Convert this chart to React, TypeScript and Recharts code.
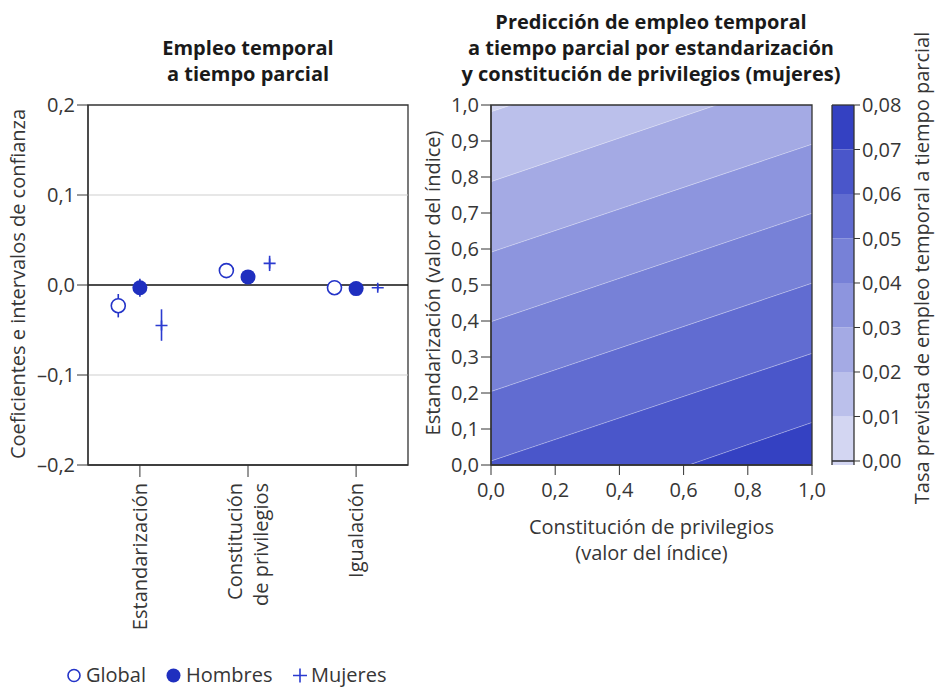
import React from 'react';
import {
  ComposedChart,
  Scatter,
  ErrorBar,
  XAxis,
  YAxis,
  ReferenceLine,
  ReferenceArea,
  Area,
} from 'recharts';

const FONT = '"Open Sans", "Noto Sans", "DejaVu Sans", sans-serif';
const TEXT = '#363636';
const AXIS = '#333333';
const FS = 20;

// ---------- Left panel data ----------
const categoryLabels: string[][] = [['Estandarización'], ['Constitución', 'de privilegios'], ['Igualación']];
const categoryPositions = [1, 2, 3];
const coefTicks = [-0.2, -0.1, 0, 0.1, 0.2];

const globalCoef = [-0.023, 0.016, -0.003];
const globalLow = [-0.036, 0.012, -0.007];
const globalHigh = [-0.01, 0.02, 0.001];

const hombresCoef = [-0.003, 0.009, -0.004];
const hombresLow = [-0.013, 0.005, -0.008];
const hombresHigh = [0.007, 0.013, 0.0];

const mujeresCoef = [-0.045, 0.024, -0.003];
const mujeresLow = [-0.062, 0.0155, -0.006];
const mujeresHigh = [-0.027, 0.0325, 0.0];

const seriesNames = ['Global', 'Hombres', 'Mujeres'];

// ---------- Right panel data ----------
const privilegiosTicks = [0, 0.2, 0.4, 0.6, 0.8, 1];
const estandarizacionTicks = [0, 0.1, 0.2, 0.3, 0.4, 0.5, 0.6, 0.7, 0.8, 0.9, 1];
const privilegiosEnds = [0, 1];
// contour lines (levels 0.01 ... 0.07): standardization value where each line meets privilegios = 0 and = 1
const contourLevels = [0.01, 0.02, 0.03, 0.04, 0.05, 0.06, 0.07];
const contourAtPriv0 = [0.981, 0.787, 0.591, 0.398, 0.204, 0.011, -0.19];
const contourAtPriv1 = [1.28, 1.09, 0.891, 0.699, 0.505, 0.31, 0.118];

const colorbarTicks = [0, 0.01, 0.02, 0.03, 0.04, 0.05, 0.06, 0.07, 0.08];
// band colours 0.00–0.01 ... 0.07–0.08
const levelColors = ['#d3d6f2', '#bbc0eb', '#a4aae4', '#8d95de', '#7781d7', '#616cd1', '#4a56ca', '#3441c2'];

const GLOBAL_COLOR = '#2434c8';
const HOMBRES_COLOR = '#1f2fbf';
const MUJERES_COLOR = '#2b3bd0';

const dodge = [-0.2, 0, 0.2];

const makeSeries = (coef: number[], low: number[], high: number[], off: number) =>
  coef.map((c, i) => ({
    x: categoryPositions[i] + off,
    y: c,
    err: [c - low[i], high[i] - c],
  }));

const globalData = makeSeries(globalCoef, globalLow, globalHigh, dodge[0]);
const hombresData = makeSeries(hombresCoef, hombresLow, hombresHigh, dodge[1]);
const mujeresData = makeSeries(mujeresCoef, mujeresLow, mujeresHigh, dodge[2]);

const contourRows = privilegiosEnds.map((xv) => {
  const ys = xv === 0 ? contourAtPriv0 : contourAtPriv1;
  const row: any = { x: xv };
  for (let j = 0; j < levelColors.length; j++) {
    const hi = j === 0 ? 3 : ys[j - 1];
    const lo = j === contourLevels.length ? -2 : ys[j];
    row['band' + j] = [lo, hi];
  }
  return row;
});

const COLORBAR_MIN = -0.0009;
const colorbarRows = privilegiosEnds.map((xv) => {
  const row: any = { x: xv };
  for (let j = 0; j < levelColors.length; j++) {
    row['band' + j] = [j === 0 ? COLORBAR_MIN : colorbarTicks[j], colorbarTicks[j + 1]];
  }
  return row;
});

const fmt = (d: number) => (v: number) => v.toFixed(d).replace('.', ',').replace('-', '–');

const tickStyle = { fontSize: FS, fill: TEXT, fontFamily: FONT };

const CategoryTick = (props: any) => {
  const { x, y, payload } = props;
  const idx = categoryPositions.indexOf(Math.round(payload.value));
  const lines = categoryLabels[idx] || [];
  const n = lines.length;
  return (
    <g transform={`translate(${x},${y})`}>
      <text transform="rotate(-90)" textAnchor="end" fontSize={FS} fill={TEXT} fontFamily={FONT}>
        {lines.map((l, i) => (
          <tspan key={i} x={0} y={(i - (n - 1) / 2) * 26 + 7}>
            {l}
          </tspan>
        ))}
      </text>
    </g>
  );
};

const OpenCircle = (props: any) => (
  <circle cx={props.cx} cy={props.cy} r={7} fill="#ffffff" stroke={GLOBAL_COLOR} strokeWidth={1.6} />
);
const FilledCircle = (props: any) => (
  <circle cx={props.cx} cy={props.cy} r={7.5} fill={HOMBRES_COLOR} stroke="none" />
);
const Plus = (props: any) => (
  <path
    d={`M${props.cx - 6},${props.cy}H${props.cx + 6}M${props.cx},${props.cy - 5}V${props.cy + 5}`}
    stroke={MUJERES_COLOR}
    strokeWidth={1.6}
    fill="none"
  />
);

const rotatedLabel = (text: string, cx: number, cy: number) => (
  <div
    style={{
      position: 'absolute',
      left: cx,
      top: cy,
      transform: 'translate(-50%, -50%) rotate(-90deg)',
      whiteSpace: 'nowrap',
      fontFamily: FONT,
      fontSize: FS,
      color: TEXT,
      lineHeight: '24px',
    }}
  >
    {text}
  </div>
);

const legendText = (text: string, left: number) => (
  <div
    style={{
      position: 'absolute',
      left,
      top: 664,
      height: 22,
      lineHeight: '22px',
      fontSize: FS,
      color: TEXT,
      whiteSpace: 'nowrap',
    }}
  >
    {text}
  </div>
);

export default function App() {
  return (
    <div style={{ position: 'absolute', left: 0, top: 0, width: 935, height: 687, background: '#fff', fontFamily: FONT, overflow: 'hidden' }}>
      {/* Left title */}
      <div
        style={{
          position: 'absolute',
          left: 88,
          width: 320,
          top: 35,
          textAlign: 'center',
          fontWeight: 700,
          fontSize: FS,
          lineHeight: '26px',
          color: '#1a1a1a',
        }}
      >
        Empleo temporal
        <br />a tiempo parcial
      </div>
      {/* Right title */}
      <div
        style={{
          position: 'absolute',
          left: 441,
          width: 420,
          top: 9,
          textAlign: 'center',
          fontWeight: 700,
          fontSize: FS,
          lineHeight: '26px',
          color: '#1a1a1a',
        }}
      >
        Predicción de empleo temporal
        <br />a tiempo parcial por estandarización
        <br />y constitución de privilegios (mujeres)
      </div>

      {/* Left chart */}
      <div style={{ position: 'absolute', left: 0, top: 0 }}>
        <ComposedChart width={420} height={687} margin={{ top: 105, right: 12, bottom: 62, left: 28 }}>
          <XAxis
            dataKey="x"
            type="number"
            domain={[0.52, 3.48]}
            ticks={categoryPositions}
            allowDataOverflow
            height={160}
            tickSize={12}
            tickMargin={6}
            tick={<CategoryTick />}
            stroke={AXIS}
            tickLine={{ stroke: AXIS }}
            axisLine={{ stroke: AXIS, strokeWidth: 1.3 }}
          />
          <YAxis
            dataKey="y"
            type="number"
            domain={[-0.2, 0.2]}
            ticks={coefTicks}
            allowDataOverflow
            width={60}
            tickSize={11}
            tickMargin={2}
            tickFormatter={fmt(1)}
            tick={tickStyle}
            tickLine={{ stroke: AXIS }}
            axisLine={{ stroke: AXIS, strokeWidth: 1.3 }}
          />
          <ReferenceLine y={0.1} stroke="#cfcfcf" strokeWidth={1} />
          <ReferenceLine y={-0.1} stroke="#cfcfcf" strokeWidth={1} />
          <ReferenceLine y={0} stroke="#111111" strokeWidth={1.3} />
          <ReferenceArea x1={0.52} x2={3.48} y1={-0.2} y2={0.2} fill="none" fillOpacity={0} stroke={AXIS} strokeWidth={1.3} />
          <Scatter name={seriesNames[0]} data={globalData} dataKey="y" shape={OpenCircle} isAnimationActive={false}>
            <ErrorBar dataKey="err" direction="y" width={0} stroke={GLOBAL_COLOR} strokeWidth={1.6} isAnimationActive={false} />
          </Scatter>
          <Scatter name={seriesNames[1]} data={hombresData} dataKey="y" shape={FilledCircle} isAnimationActive={false}>
            <ErrorBar dataKey="err" direction="y" width={0} stroke={HOMBRES_COLOR} strokeWidth={1.6} isAnimationActive={false} />
          </Scatter>
          <Scatter name={seriesNames[2]} data={mujeresData} dataKey="y" shape={Plus} isAnimationActive={false}>
            <ErrorBar dataKey="err" direction="y" width={0} stroke={MUJERES_COLOR} strokeWidth={1.6} isAnimationActive={false} />
          </Scatter>
        </ComposedChart>
      </div>
      {rotatedLabel('Coeficientes e intervalos de confianza', 18, 284)}

      {/* Legend */}
      <svg style={{ position: 'absolute', left: 0, top: 664 }} width={320} height={22}>
        <circle cx={74} cy={11.5} r={6} fill="#fff" stroke={GLOBAL_COLOR} strokeWidth={1.6} />
        <circle cx={173.5} cy={11.5} r={7} fill={HOMBRES_COLOR} />
        <path d="M293,11.5H307M300,4.5V18.5" stroke={MUJERES_COLOR} strokeWidth={1.6} />
      </svg>
      {legendText(seriesNames[0], 86)}
      {legendText(seriesNames[1], 186)}
      {legendText(seriesNames[2], 311)}

      {/* Right contour chart */}
      <div style={{ position: 'absolute', left: 420, top: 0 }}>
        <ComposedChart width={420} height={687} data={contourRows} margin={{ top: 105, right: 28, bottom: 182, left: 21 }}>
          <XAxis
            dataKey="x"
            type="number"
            domain={[0, 1]}
            ticks={privilegiosTicks}
            allowDataOverflow
            height={40}
            tickSize={10}
            tickMargin={8}
            tickFormatter={fmt(1)}
            tick={tickStyle}
            tickLine={{ stroke: AXIS }}
            axisLine={{ stroke: AXIS, strokeWidth: 1.3 }}
          />
          <YAxis
            type="number"
            domain={[0, 1]}
            ticks={estandarizacionTicks}
            allowDataOverflow
            width={50}
            tickSize={10}
            tickMargin={2}
            tickFormatter={fmt(1)}
            tick={tickStyle}
            tickLine={{ stroke: AXIS }}
            axisLine={{ stroke: AXIS, strokeWidth: 1.3 }}
          />
          {levelColors.map((c, j) => (
            <Area
              key={j}
              dataKey={'band' + j}
              type="linear"
              fill={c}
              fillOpacity={1}
              stroke="#ffffff"
              strokeOpacity={0.35}
              strokeWidth={0.7}
              dot={false}
              activeDot={false}
              isAnimationActive={false}
            />
          ))}
          <ReferenceArea x1={0} x2={1} y1={0} y2={1} fill="none" fillOpacity={0} stroke={AXIS} strokeWidth={1.3} />
        </ComposedChart>
      </div>
      {rotatedLabel('Estandarización (valor del índice)', 433, 283)}
      <div
        style={{
          position: 'absolute',
          left: 471,
          width: 361,
          top: 514,
          textAlign: 'center',
          fontSize: FS,
          lineHeight: '26px',
          color: TEXT,
        }}
      >
        Constitución de privilegios
        <br />
        (valor del índice)
      </div>

      {/* Colour bar */}
      <div style={{ position: 'absolute', left: 820, top: 0 }}>
        <ComposedChart width={115} height={687} data={colorbarRows} margin={{ top: 105, right: 21, bottom: 182, left: 12 }}>
          <XAxis
            dataKey="x"
            type="number"
            domain={[0, 1]}
            ticks={privilegiosEnds}
            height={40}
            tickSize={12}
            tick={false}
            tickLine={{ stroke: AXIS }}
            axisLine={false}
          />
          <YAxis
            orientation="right"
            type="number"
            domain={[COLORBAR_MIN, 0.08]}
            ticks={colorbarTicks}
            allowDataOverflow
            width={60}
            tickSize={6}
            tickMargin={2}
            tickFormatter={fmt(2)}
            tick={tickStyle}
            tickLine={{ stroke: AXIS }}
            axisLine={false}
          />
          {levelColors.map((c, j) => (
            <Area
              key={j}
              dataKey={'band' + j}
              type="linear"
              fill={c}
              fillOpacity={1}
              stroke="none"
              dot={false}
              activeDot={false}
              isAnimationActive={false}
            />
          ))}
          <ReferenceLine y={0} stroke="#111111" strokeWidth={1.3} />
          <ReferenceLine y={0.08} stroke={AXIS} strokeWidth={1.3} />
          <ReferenceLine x={0} stroke={AXIS} strokeWidth={1.3} />
          <ReferenceLine x={1} stroke={AXIS} strokeWidth={1.3} />
        </ComposedChart>
      </div>
      {rotatedLabel('Tasa prevista de empleo temporal a tiempo parcial', 922, 268)}
    </div>
  );
}
